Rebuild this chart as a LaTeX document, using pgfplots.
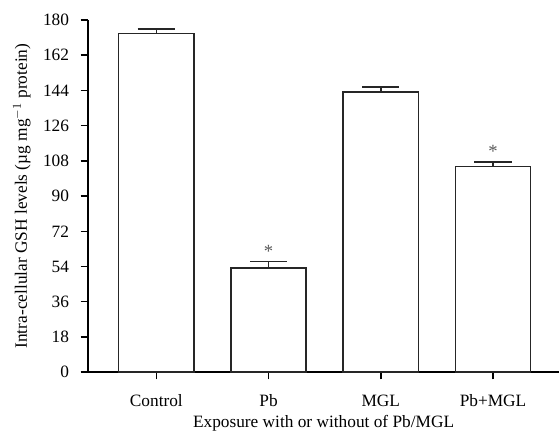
\documentclass[border=0pt]{standalone}
\usepackage{fontspec}
\setmainfont{Liberation Serif}
\usepackage{pgfplots}
\pgfplotsset{compat=1.18}

\begin{document}
\fontsize{13}{15}\selectfont
\begin{tikzpicture}
\begin{axis}[
    name=main,
    width=354pt, height=264.5pt,
    scale only axis,
    axis lines*=left,
    axis line style={line width=1.1pt, -},
    every tick/.style={line width=1.1pt, black},
    tick align=outside,
    major tick length=5.5pt,
    xmin=-0.61, xmax=3.59,
    ymin=0, ymax=180,
    ytick={0,18,...,180},
    xtick={0,1,2,3},
    xticklabels={Control, Pb, MGL, Pb+MGL},
    /pgf/number format/assume math mode=true,
    ticklabel style={font=\fontsize{13}{15}\selectfont},
    xticklabel style={anchor=base, yshift=-20pt},
    yticklabel style={anchor=east, inner sep=0pt, xshift=-8.5pt},
    xlabel={Exposure with or without of Pb/MGL},
    ylabel={Intra-cellular GSH levels (µg mg$^{-1}$ protein)},
    label style={font=\fontsize{13}{15}\selectfont},
    every axis x label/.style={at={(axis description cs:0.5,0)}, anchor=base, yshift=-41.5pt},
    every axis y label/.style={at={(axis description cs:-0.14,0.5)}, rotate=90, anchor=center},
    clip=false,
]
\addplot[ybar, bar width=0.67, fill=white, draw=black!85, line width=1.1pt,
    error bars/.cd, y dir=plus, y explicit,
    error bar style={line width=1.1pt, black!85},
    error mark options={rotate=90, mark size=14pt, line width=1.1pt, black!85}]
    coordinates {
    (0,173.2) +- (0,2.1)
    (1,53.3) +- (0,3.2)
    (2,143.1) +- (0,2.7)
    (3,105.2) +- (0,2.2)
};
% significance markers
\addplot[draw=none, mark=none, nodes near coords={*},
    every node near coord/.style={font=\fontsize{14}{16}\selectfont, text=black!65, anchor=south, inner sep=1pt}]
    coordinates {(1,58) (3,109)};
\end{axis}
% blank margins round the plot, as in the reference
\path (main.north west) ++(0,15pt);
\path (main.south west) ++(-66pt,-45.25pt);
\end{tikzpicture}
\end{document}
